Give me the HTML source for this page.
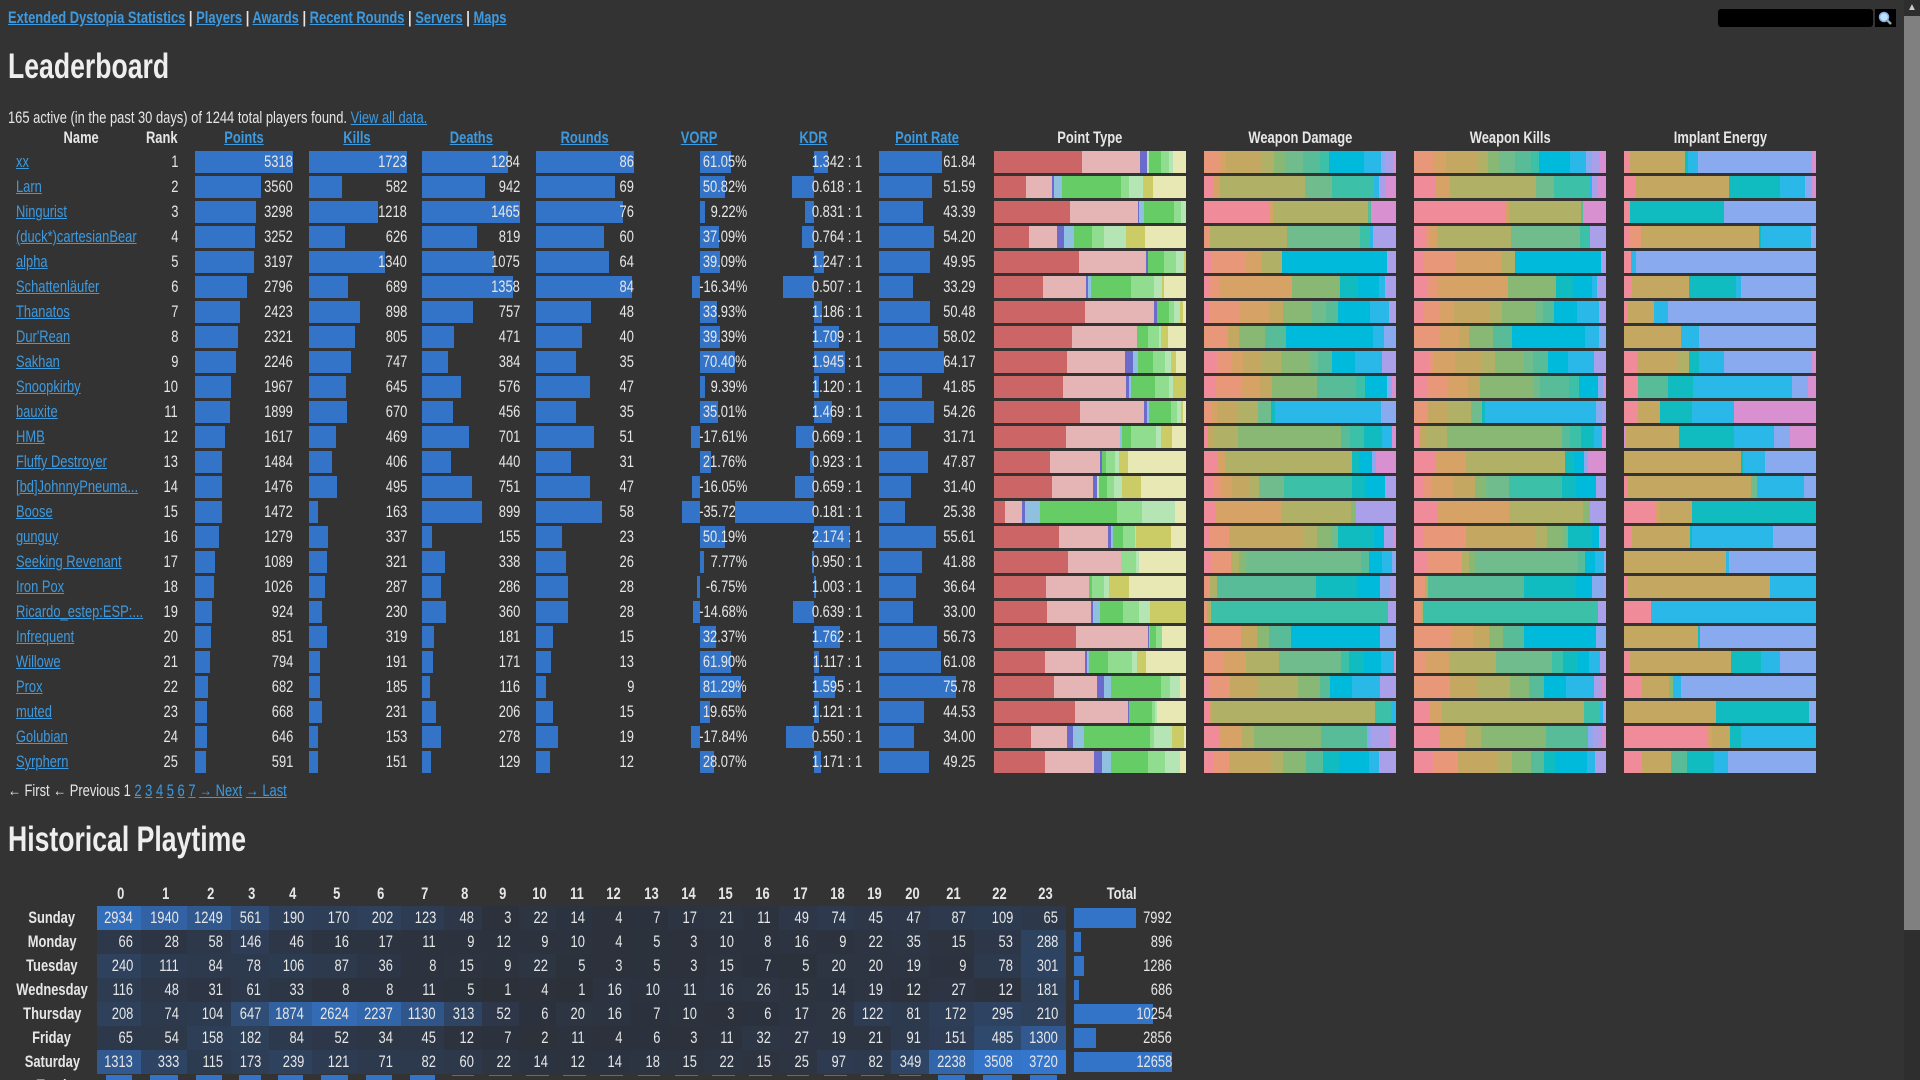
<!DOCTYPE html>
<html><head><meta charset="utf-8">
<style>
html,body{margin:0;padding:0;width:1920px;height:1080px;overflow:hidden;background:#333333;}
body{font-family:"Liberation Sans Narrow","Liberation Sans",sans-serif;color:#e6e6e6;font-size:17px;position:relative;}
.a{position:absolute;white-space:nowrap;}
.lk{color:#3d9ae0;text-decoration:underline;}
.b{font-weight:bold;}
.sx{display:inline-block;transform:scaleX(0.76);}
</style></head><body>
<div class="a" style="left:8px;top:7px;font-size:17px;line-height:22px;font-weight:bold;"><span class="sx" style="transform-origin:left"><span class="lk">Extended Dystopia Statistics</span> | <span class="lk">Players</span> | <span class="lk">Awards</span> | <span class="lk">Recent Rounds</span> | <span class="lk">Servers</span> | <span class="lk">Maps</span></span></div>
<div class="a" style="left:1718px;top:9px;width:155px;height:18px;background:#000;border-radius:3px;"></div>
<div class="a" style="left:1875px;top:9px;width:21px;height:18px;background:#000;"><svg width="21" height="18"><circle cx="9" cy="8" r="4.5" fill="#bfe0ff" stroke="#7fb0e0" stroke-width="1.5"/><line x1="12" y1="11" x2="16" y2="15" stroke="#9aa" stroke-width="2.5"/></svg></div>
<div class="a" style="left:1904px;top:0;width:16px;height:1080px;background:#2e2e2e;"></div>
<div class="a" style="left:1904px;top:16px;width:16px;height:914px;background:#808080;"></div>
<div class="a" style="left:1907px;top:3px;color:#ccc;font-size:10px;line-height:10px;">&#9650;</div>
<div class="a b" style="left:8px;top:46px;font-size:35px;line-height:42px;color:#eee;"><span class="sx" style="transform-origin:left">Leaderboard</span></div>
<div class="a" style="left:8px;top:106px;line-height:24px;"><span class="sx" style="transform-origin:left">165 active (in the past 30 days) of 1244 total players found. <span class="lk">View all data.</span></span></div>
<div class="a" style="left:8px;top:778px;line-height:26px;"><span class="sx" style="transform-origin:left">&#8592; First &#8592; Previous 1 <span class="lk">2</span> <span class="lk">3</span> <span class="lk">4</span> <span class="lk">5</span> <span class="lk">6</span> <span class="lk">7</span> <span class="lk">&#8594; Next</span> <span class="lk">&#8594; Last</span></span></div>
<div class="a b" style="left:8px;top:819px;font-size:35px;line-height:42px;color:#eee;"><span class="sx" style="transform-origin:left">Historical Playtime</span></div>
<div id="root"></div>
<script>
var R=document.getElementById('root');var H='';
function box(x,y,w,h,c){H+='<div class="a" style="left:'+x+'px;top:'+y+'px;width:'+w+'px;height:'+h+'px;background:'+c+'"></div>';}
function txt(x,y,t,al,cls,w){w=w||200;var l=al=='r'?x-w:(al=='c'?x-w/2:x);var o=al=='r'?'right':al=='c'?'center':'left';
H+='<div class="a '+(cls||'')+'" style="left:'+l+'px;top:'+(y-12)+'px;width:'+w+'px;height:24px;line-height:24px;text-align:'+o+'"><span class="sx" style="transform-origin:'+o+'">'+t+'</span></div>';}
var BL='#3374c8';
var hy=138;
txt(81,hy,'Name','c','b');txt(178,hy,'Rank','r','b');
txt(244,hy,'<span class="lk">Points</span>','c','b');txt(357,hy,'<span class="lk">Kills</span>','c','b');
txt(471,hy,'<span class="lk">Deaths</span>','c','b');txt(585,hy,'<span class="lk">Rounds</span>','c','b');
txt(699,hy,'<span class="lk">VORP</span>','c','b');txt(813,hy,'<span class="lk">KDR</span>','c','b');
txt(927,hy,'<span class="lk">Point Rate</span>','c','b');
txt(1090,hy,'Point Type','c','b');txt(1300,hy,'Weapon Damage','c','b');txt(1510,hy,'Weapon Kills','c','b');txt(1720,hy,'Implant Energy','c','b');
var D=[
['xx',5318,1723,1284,86,61.05,1.342,61.84],['Larn',3560,582,942,69,50.82,0.618,51.59],['Ningurist',3298,1218,1465,76,9.22,0.831,43.39],
['(duck*)cartesianBear',3252,626,819,60,37.09,0.764,54.20],['alpha',3197,1340,1075,64,39.09,1.247,49.95],['Schattenläufer',2796,689,1358,84,-16.34,0.507,33.29],
['Thanatos',2423,898,757,48,33.93,1.186,50.48],["Dur'Rean",2321,805,471,40,39.39,1.709,58.02],['Sakhan',2246,747,384,35,70.40,1.945,64.17],
['Snoopkirby',1967,645,576,47,9.39,1.120,41.85],['bauxite',1899,670,456,35,35.01,1.469,54.26],['HMB',1617,469,701,51,-17.61,0.669,31.71],
['Fluffy Destroyer',1484,406,440,31,21.76,0.923,47.87],['[bd]JohnnyPneuma...',1476,495,751,47,-16.05,0.659,31.40],['Boose',1472,163,899,58,-35.72,0.181,25.38],
['gunguy',1279,337,155,23,50.19,2.174,55.61],['Seeking Revenant',1089,321,338,26,7.77,0.950,41.88],['Iron Pox',1026,287,286,28,-6.75,1.003,36.64],
['Ricardo_estep:ESP:...',924,230,360,28,-14.68,0.639,33.00],['Infrequent',851,319,181,15,32.37,1.762,56.73],['Willowe',794,191,171,13,61.90,1.117,61.08],
['Prox',682,185,116,9,81.29,1.595,75.78],['muted',668,231,206,15,19.65,1.121,44.53],['Golubian',646,153,278,19,-17.84,0.550,34.00],['Syrphern',591,151,129,12,28.07,1.171,49.25]];
var C={R:'#cc6666',P:'#e5b5b5',U:'#6b6bcc',B:'#90c0e0',G:'#66cc66',L:'#90dd90',W:'#b5e5b5',O:'#cccc66',Y:'#e8e8b5',
k:'#f08c9a',s:'#e89878',t:'#d6a266',h:'#c4a862',o:'#b0b066',g:'#88b874',m:'#70bc8c',e:'#58bc98',q:'#3cc0a8',c:'#10bcc0',n:'#00badc',y:'#2ab8e8',v:'#8aaaf0',l:'#aaa0ea',p:'#d890d0'};
var S=[
['R166 P109 U14 W4 G22 L15 W8 Y24','s30 t12 h68 o22 g20 m35 e32 q17 n66 y32 v8 l14 p6','s35 t25 h60 o20 g20 m30 e30 q15 n60 y30 v10 l15 p12','k12 h98 o4 c6 y18 v212 p8'],
['R60 P50 U4 B14 G112 L15 W26 O18 Y63','k18 t12 o160 m52 q78 y10 l14 p18','k42 t26 o162 m34 q68 y5 l10 p16','k22 h176 c95 y48 v12 p8'],
['R143 P128 U3 B8 G58 L12 W10','k126 t4 o180 e6 p48','k172 t8 o136 e4 p44','k11 c178 v174'],
['R66 P53 U13 B19 G34 L22 W42 O36 Y77','s11 o146 m138 q18 y6 l43','k22 s6 t16 o138 m130 q18 l31','k10 s22 h222 c4 y94 v10'],
['R160 P126 U4 G30 L24 W14 O4','k14 s66 t27 o40 n198 l17','k17 s62 t85 o28 n162 l10','k13 y10 v339'],
['R92 P82 U3 B6 G76 L42 W15 O4 Y42','k12 s16 t138 g92 c33 n40 y11 l21','k25 s18 t135 g90 c32 n35 y10 l17','k15 h108 c88 y10 v141'],
['R171 P130 U6 G22 L10 W12 O5 Y6','k10 s18 s36 t55 h26 g53 m25 e22 n58 y35 l13','k16 s25 t25 h58 o20 g55 m12 e18 n38 y35 l12','k7 h50 y25 v279'],
['R149 P123 G22 L20 W4 O14 Y34','s46 h20 g50 e40 n164 y22 v22','s48 t36 h20 g44 e36 n138 y26 v14','h107 y34 v221'],
['R137 P110 U15 B9 G28 L22 W12 O9 Y19','k22 s28 t18 h32 o36 g50 m14 e26 n40 y48 l24','k25 s10 t35 h48 o22 g50 m15 e26 n34 y46 l20','k24 h78 o20 c20 y46 v166 p8'],
['R130 P117 U6 B3 G46 L26 W8 O24','k20 s50 t35 h22 g84 e72 q16 n42 v8 p8','k22 s35 t35 h20 g90 m12 e48 q18 n32 v8 p5','k26 e57 c47 y187 v30 p15'],
['R162 P121 U6 B4 G40 L12 W7 O5 Y5','s14 t10 h40 o38 m25 c8 y200 v29','s26 h38 o42 m22 c6 y208 v10 l8','k26 h42 c60 y80 p154'],
['R136 P102 B3 G17 L48 W8 O22 Y26','k7 h12 o44 g72 g122 e18 q26 c34 y18 p8','k9 h14 o40 g90 g128 e16 q20 c26 y14 p8','p4 h96 o4 c102 y75 v30 p49'],
['R105 P95 U4 G8 L16 W8 O16 Y110','k26 t14 o240 c14 n24 v8 p38','k42 t56 o188 c18 n18 v8 p34','h220 c4 y42 v96'],
['R109 P78 U6 W5 G14 L14 W14 O36 Y85','k16 s15 t20 h30 o18 m46 q122 c24 n36 l19','k18 s15 t40 h42 g20 m44 q98 c26 n38 l19','k8 h232 m10 y90 v22'],
['R20 P32 U6 B28 G146 L47 W62 Y21','k20 t125 o132 g10 l75','k43 t136 o138 g14 l30','k58 t10 h60 c234'],
['R122 P93 U6 B3 G20 L22 W2 O66 Y28','k12 s34 h140 o24 g26 m12 c68 n18 l17 p5','k18 s78 h130 o20 g30 m8 c46 n12 l13','k15 h110 c4 y152 v81'],
['R139 P100 L28 W4 Y89','k16 s34 o16 g14 m216 e16 n24 y18 v8','k24 s68 o12 g12 m196 e14 n18 y18 v3','h192 y6 v164'],
['R98 P80 G6 L22 W10 O38 Y107','s12 o12 e188 c78 n42 v20 l11','s20 o6 e182 c98 n30 v24 l3','k5 h271 y86'],
['R100 P83 U3 B13 G43 L30 W21 O68','s6 o8 q332 l15','s13 o4 q330 l15','k50 y312'],
['R154 P136 U2 B3 G10 L12 Y45','k6 s64 h30 g24 e40 n170 v30','s70 t42 h30 g26 e40 n136 v19','h140 c4 v218'],
['R96 P76 U3 B5 G34 L46 W10 O16 Y76','s34 t40 o58 m108 q14 c26 n30 y24 p3','s22 t40 o84 m98 q20 c26 n20 y20 l10','k11 h190 c55 y36 v68'],
['R113 P81 U13 B14 G94 L17 W18 Y12','k10 s40 h54 o80 g42 e20 n42 y54 l32','s66 h52 o60 g36 e28 n40 y52 l16 p7','k33 h50 g8 y16 v251'],
['R153 P100 U2 G42 L6 W5 Y54','k10 t4 o309 q30 y10','k30 t24 o270 q30 y5 l6','h173 c176 v13'],
['R69 P68 U12 B20 G126 L6 W34 O24 Y3','k30 t42 o22 g128 e86 v8 l35 p12','k48 t46 o30 g120 e76 v10 l16 p8','k156 t10 h34 c20 y142'],
['R96 P92 U16 B17 G69 L33 W27 Y12','k18 s30 h80 o22 g44 e32 c30 n56 y20 l32','k36 s46 h74 o28 g36 e24 c20 n60 y16 l20','k34 h54 e30 c52 y26 v166']];
function stack(x,y,spec){var parts=spec.split(' ');var tot=0;parts.forEach(function(p){tot+=+p.slice(1)});var cx=x;
 parts.forEach(function(p){var w=+p.slice(1)/tot*192;box(cx.toFixed(2),y,(w+0.3).toFixed(2),22,C[p[0]]);cx+=w;});}
D.forEach(function(d,i){var cy=162+25*i,by=151+25*i;
 txt(16,cy,'<span class="lk">'+d[0]+'</span>','l','',130);
 txt(178,cy,String(i+1),'r');
 box(195,by,Math.round(d[1]/5318*98),22,BL);txt(293,cy,d[1],'r');
 box(309,by,Math.round(d[2]/1723*98),22,BL);txt(407,cy,d[2],'r');
 box(422,by,Math.round(d[3]/1465*98),22,BL);txt(520,cy,d[3],'r');
 box(536,by,Math.round(d[4]/86*98),22,BL);txt(634,cy,d[4],'r');
 var vw=Math.abs(d[5])*0.5;box(d[5]>=0?700:700-vw,by,Math.max(2,vw),22,BL);txt(747,cy,d[5].toFixed(2)+'%','r');
 var kw=Math.log(d[6])*46;box(kw>=0?814:814+kw,by,Math.max(2,Math.abs(kw)),22,BL);txt(862,cy,d[6].toFixed(3)+' : 1','r');
 box(879,by,Math.round(d[7]*1.02),22,BL);txt(976,cy,d[7].toFixed(2),'r');
 stack(994,by,S[i][0]);stack(1204,by,S[i][1]);stack(1414,by,S[i][2]);stack(1624,by,S[i][3]);
});
var bd=[97,141,187,231,269,312,357,401,444,482,519,556,593,630,668,705,742,779,817,854,891,929,974,1021,1066];
var P=[['Sunday',[2934,1940,1249,561,190,170,202,123,48,3,22,14,4,7,17,21,11,49,74,45,47,87,109,65],7992],
['Monday',[66,28,58,146,46,16,17,11,9,12,9,10,4,5,3,10,8,16,9,22,35,15,53,288],896],
['Tuesday',[240,111,84,78,106,87,36,8,15,9,22,5,3,5,3,15,7,5,20,20,19,9,78,301],1286],
['Wednesday',[116,48,31,61,33,8,8,11,5,1,4,1,16,10,11,16,26,15,14,19,12,27,12,181],686],
['Thursday',[208,74,104,647,1874,2624,2237,1130,313,52,6,20,16,7,10,3,6,17,26,122,81,172,295,210],10254],
['Friday',[65,54,158,182,84,52,34,45,12,7,2,11,4,6,3,11,32,27,19,21,91,151,485,1300],2856],
['Saturday',[1313,333,115,173,239,121,71,82,60,22,14,12,14,18,15,22,15,25,97,82,349,2238,3508,3720],12658]];
for(var h=0;h<24;h++)txt((bd[h]+bd[h+1])/2+2,894,String(h),'c','b',40);
txt(1122,894,'Total','c','b',80);
var tot=[];for(h=0;h<24;h++){tot[h]=0;P.forEach(function(r){tot[h]+=r[1][h]})}
P.forEach(function(r,j){var top=906+24*j,cy=top+12;
 txt(52,cy,r[0],'c','b',100);
 r[1].forEach(function(v,h){var t=Math.sqrt(v/3720);var c0=[44,47,55],c1=[52,118,204];
  var col='rgb('+c0.map(function(a,k){return Math.round(a+(c1[k]-a)*t)}).join(',')+')';
  box(bd[h],top,bd[h+1]-bd[h],24,col);txt(bd[h+1]-8,cy,v,'r','',60);});
 box(1074,top+2,Math.round(r[2]/12658*98),20,BL);txt(1172,cy,r[2],'r','',80);
});
txt(52,1086,'Total','c','b',100);
var mx=Math.max.apply(null,tot);
for(h=0;h<24;h++){var w=bd[h+1]-bd[h];var hh=tot[h]/mx>0.15?8:1;box(bd[h]+w*0.2,1075,w*0.6,hh,BL);}
R.innerHTML=H;
</script>
</body></html>
